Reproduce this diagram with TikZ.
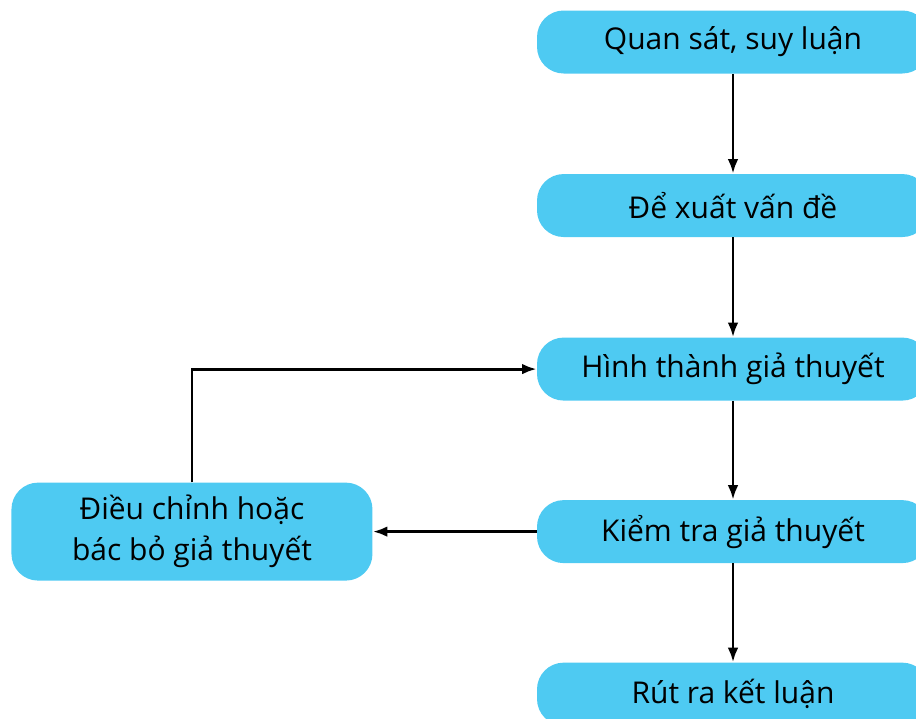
\documentclass[tikz,border=0pt]{standalone}
\usepackage{fontspec}
\setmainfont{Open Sans}
\usetikzlibrary{positioning,arrows.meta}

\definecolor{stepblue}{RGB}{78,202,242}

\begin{document}
\begin{tikzpicture}[>={Latex[length=11pt,width=8pt]}, x=0.75pt, y=0.75pt]

    %
    % Page frame (916 x 718)
    %
    \useasboundingbox (0,0) rectangle (916,-718);
    \clip (0,0) rectangle (916,-718);

    %
    % Styles for steps, and step edges
    %
    \tikzstyle{stepbox} = [rectangle, rounded corners=20pt, fill=stepblue, align=center,
                           minimum height=47.25pt, minimum width=294pt, inner sep=0pt,
                           font={\fontsize{22.5}{31}\selectfont}, text=black];
    \tikzstyle{flow} = [black, line width=2.2pt, ->];

    %
    % Position steps
    %
    \node[stepbox, name=quansat] at (733,-42) {Quan sát, suy luận};
    \node[stepbox, name=dexuat, below = 75pt of quansat] {Để xuất vấn đề};
    \node[stepbox, name=hinhthanh, below = 75pt of dexuat] {Hình thành giả thuyết};
    \node[stepbox, name=kiemtra, below = 74.25pt of hinhthanh] {Kiểm tra giả thuyết};
    \node[stepbox, name=rutra, below = 74.25pt of kiemtra] {Rút ra kết luận};
    \node[stepbox, name=dieuchinh, minimum width=270.75pt, minimum height=73.5pt,
          left = 123pt of kiemtra] {Điều chỉnh hoặc\\bác bỏ giả thuyết};

    %
    % Connect steps via edges
    %
    \draw[flow] (quansat) -- (dexuat);
    \draw[flow] (dexuat) -- (hinhthanh);
    \draw[flow] (hinhthanh) -- (kiemtra);
    \draw[flow] (kiemtra) -- (rutra);
    \draw[flow] (kiemtra) -- (dieuchinh);
    \draw[flow] (dieuchinh.north) |- (hinhthanh.west);
  \end{tikzpicture}
\end{document}
